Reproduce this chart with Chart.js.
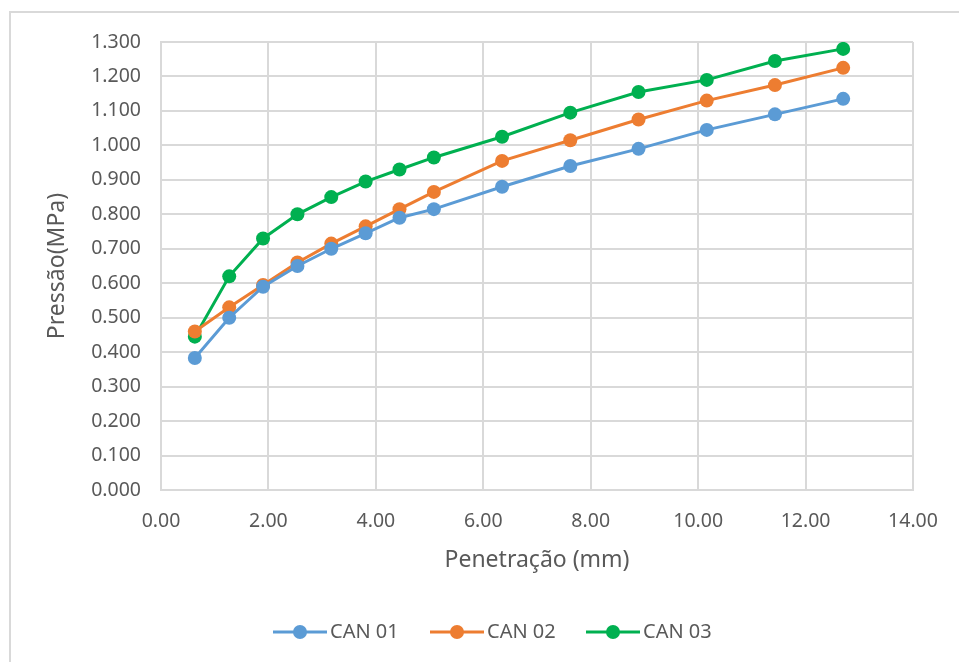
<!DOCTYPE html>
<html>
<head>
<meta charset="utf-8">
<script src="https://cdn.jsdelivr.net/npm/chart.js@4.4.1/dist/chart.umd.min.js"></script>
<style>
  html, body { margin: 0; padding: 0; background: #fff; overflow: hidden; }
  #wrap { position: relative; width: 959px; height: 662px; }
  #frame { position: absolute; left: 9px; top: 11px; width: 980px; height: 700px;
           border: 2px solid #d9d9d9; box-sizing: border-box; }
  canvas { position: absolute; left: 0; top: 0; }
</style>
</head>
<body>
<div id="wrap">
  <div id="frame"></div>
  <canvas id="chart" width="959" height="662"></canvas>
</div>
<script>
const penetration = [0.63, 1.27, 1.90, 2.54, 3.17, 3.81, 4.44, 5.08, 6.35, 7.62, 8.89, 10.16, 11.43, 12.70];
const can01 = [0.383, 0.500, 0.590, 0.650, 0.700, 0.745, 0.790, 0.815, 0.880, 0.940, 0.990, 1.045, 1.090, 1.135];
const can02 = [0.460, 0.530, 0.595, 0.660, 0.715, 0.765, 0.815, 0.865, 0.955, 1.015, 1.075, 1.130, 1.175, 1.225];
const can03 = [0.445, 0.620, 0.730, 0.800, 0.850, 0.895, 0.930, 0.965, 1.025, 1.095, 1.155, 1.190, 1.245, 1.280];
const seriesNames = ['CAN 01', 'CAN 02', 'CAN 03'];
const seriesColors = ['#5b9bd5', '#ed7d31', '#00b050'];

const FONT = '"Noto Sans", sans-serif';
const TEXT = '#595959';
const GRID = '#d9d9d9';

function pts(vals) {
  return vals.map((v, i) => ({ x: penetration[i], y: v }));
}

const datasets = [can01, can02, can03].map((vals, i) => ({
  label: seriesNames[i],
  data: pts(vals),
  borderColor: seriesColors[i],
  backgroundColor: seriesColors[i],
  borderWidth: 3,
  pointRadius: 7,
  pointHoverRadius: 7,
  pointBorderWidth: 0,
  tension: 0
}));

// Excel-like legend: line with a dot, then the name
const excelLegend = {
  id: 'excelLegend',
  afterDraw(chart) {
    const ctx = chart.ctx;
    const starts = [273, 430, 586];
    const y = 632;
    ctx.save();
    ctx.font = '20px ' + FONT;
    ctx.textBaseline = 'middle';
    chart.data.datasets.forEach((ds, i) => {
      const x = starts[i];
      ctx.strokeStyle = ds.borderColor;
      ctx.lineWidth = 3;
      ctx.beginPath();
      ctx.moveTo(x, y);
      ctx.lineTo(x + 54, y);
      ctx.stroke();
      ctx.fillStyle = ds.borderColor;
      ctx.beginPath();
      ctx.arc(x + 27, y, 7, 0, Math.PI * 2);
      ctx.fill();
      ctx.fillStyle = TEXT;
      ctx.fillText(ds.label, x + 57, y);
    });
    ctx.restore();
  }
};

new Chart(document.getElementById('chart'), {
  type: 'line',
  data: { datasets },
  options: {
    responsive: false,
    animation: false,
    layout: { padding: { left: 40, top: 42, right: 46, bottom: 85 } },
    plugins: { legend: { display: false }, tooltip: { enabled: false } },
    scales: {
      x: {
        type: 'linear',
        min: 0, max: 14,
        afterFit(scale) { scale.height = 87; },
        ticks: {
          stepSize: 2,
          padding: 20,
          color: TEXT,
          font: { family: FONT, size: 19.5 },
          callback: v => v.toFixed(2)
        },
        grid: { color: GRID, lineWidth: 2, drawTicks: false },
        border: { color: GRID, width: 2 },
        title: {
          display: true,
          text: 'Penetração (mm)',
          color: TEXT,
          font: { family: FONT, size: 23 },
          padding: { top: 0, bottom: 3 }
        }
      },
      y: {
        min: 0, max: 1.3,
        afterFit(scale) { scale.width = 121; },
        ticks: {
          stepSize: 0.1,
          padding: 20,
          color: TEXT,
          font: { family: FONT, size: 19.5 },
          callback: v => v.toFixed(3)
        },
        grid: { color: GRID, lineWidth: 2, drawTicks: false },
        border: { color: GRID, width: 2 },
        title: {
          display: true,
          text: 'Pressão(MPa)',
          color: TEXT,
          font: { family: FONT, size: 23 },
          padding: { top: 4, bottom: 0 }
        }
      }
    }
  },
  plugins: [excelLegend]
});
</script>
</body>
</html>
